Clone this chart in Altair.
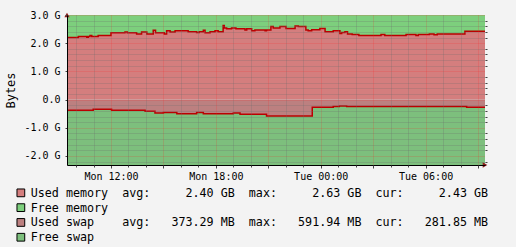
import altair as alt
import pandas as pd

# ---------------- data ----------------
BASE = pd.Timestamp("2024-01-01")  # a Monday; times are minutes since Mon 00:00

mem_minute = [569, 608, 637, 642, 648, 654, 676,
              720, 768, 776, 808, 825, 843, 865, 873, 903, 911,
              923, 940, 985, 1014, 1023, 1031, 1037, 1043, 1060, 1077,
              1088, 1105, 1109, 1117, 1134, 1149, 1180, 1186, 1203, 1214,
              1249, 1254, 1269, 1277, 1300, 1321, 1352, 1363, 1389, 1397,
              1409, 1437, 1455, 1483, 1506, 1512, 1523, 1532, 1548, 1571,
              1647, 1660, 1733, 1767, 1775, 1813, 1829, 1840, 1935, 2004]
mem_used_gb = [2.20, 2.24, 2.21, 2.24, 2.27, 2.24, 2.27,
               2.37, 2.40, 2.37, 2.33, 2.40, 2.33, 2.46, 2.37, 2.33, 2.44,
               2.40, 2.44, 2.41, 2.38, 2.41, 2.41, 2.46, 2.37, 2.41, 2.44,
               2.41, 2.63, 2.54, 2.51, 2.54, 2.51, 2.47, 2.51, 2.44, 2.47,
               2.44, 2.47, 2.59, 2.54, 2.59, 2.52, 2.61, 2.59, 2.47, 2.44,
               2.48, 2.52, 2.41, 2.44, 2.34, 2.38, 2.41, 2.33, 2.31, 2.27,
               2.31, 2.27, 2.31, 2.27, 2.31, 2.33, 2.30, 2.33, 2.42, 2.42]

swap_minute = [569, 659, 722, 837, 871, 900, 946, 1014, 1037, 1140, 1163,
               1254, 1411, 1483, 1504, 1529, 1941, 2004]
swap_used_gb = [0.38, 0.345, 0.38, 0.41, 0.48, 0.46, 0.50, 0.46, 0.50, 0.48,
                0.52, 0.578, 0.275, 0.245, 0.23, 0.245, 0.275, 0.275]

mem_total_gb = 3.0
swap_total_gb = 2.32

series_names = ["Used memory", "Free memory", "Used swap", "Free swap"]
series_colors = ["#D47E7E", "#7DCF7D", "#BC8080", "#7DBF7D"]
legend_avg = ["2.40 GB", "", "373.29 MB", ""]
legend_max = ["2.63 GB", "", "591.94 MB", ""]
legend_cur = ["2.43 GB", "", "281.85 MB", ""]

FONT = "DejaVu Sans Mono"
LINE_COLOR = "#BB0000"


def ts(m):
    return (BASE + pd.Timedelta(minutes=m)).strftime("%Y-%m-%dT%H:%M:%S")


rows = []
for m, u in zip(mem_minute, mem_used_gb):
    t = ts(m)
    rows.append({"time": t, "series": "Used memory", "top": u, "bottom": 0.0})
    rows.append({"time": t, "series": "Free memory", "top": mem_total_gb, "bottom": u})
for m, s in zip(swap_minute, swap_used_gb):
    t = ts(m)
    rows.append({"time": t, "series": "Used swap", "top": -s, "bottom": 0.0})
    rows.append({"time": t, "series": "Free swap", "top": -s, "bottom": -swap_total_gb})
df = pd.DataFrame(rows)


def dt(minute):
    return alt.DateTime(year=2024, month=1, date=1 + minute // 1440,
                        hours=(minute % 1440) // 60, minutes=minute % 60)


start_dt = dt(mem_minute[0])
end_dt = dt(mem_minute[-1])
hours_in_view = list(range(10, 34))
x_label_ticks = [dt(h * 60) for h in hours_in_view if h % 6 == 0]
x_major_ticks = [dt(h * 60) for h in hours_in_view if h % 3 == 0 and h % 6 != 0]
x_minor_ticks = [dt(h * 60) for h in hours_in_view if h % 3 != 0]
y_major_ticks = [-2.0, -1.0, 0.0, 1.0, 2.0, 3.0]
y_minor_ticks = [round(-2.2 + 0.2 * k, 1) for k in range(27) if k % 5 != 1]

NB = "\u00a0"


def legend_row(name, avg, mx, cur):
    if avg:
        s = f"{name:<13}avg:{avg:>12}  max:{mx:>12}  cur:{cur:>12}"
    else:
        s = name
    return s.replace(" ", NB)


label_strings = [legend_row(n, a, m, c) for n, a, m, c in
                 zip(series_names, legend_avg, legend_max, legend_cur)]
label_expr = ""
for n, s in zip(series_names, label_strings):
    label_expr += f"datum.label == '{n}' ? '{s}' : "
label_expr += "datum.label"

MAJOR_GRID = "rgba(255,30,30,0.32)"
MINOR_GRID = "rgba(110,110,110,0.5)"

common_axis = dict(zindex=1, grid=True, gridDash=[1, 1], labelOverlap=False,
                   labelFlush=False, tickColor="#444")

x_axis_labels = alt.Axis(
    orient="bottom", values=x_label_ticks, title=None,
    format="%a %H:%M",
    labelFont=FONT, labelFontSize=10, labelColor="#000", labelPadding=3,
    tickSize=3, domainColor="#000", gridColor=MAJOR_GRID, **common_axis,
)
x_axis_major = alt.Axis(
    orient="bottom", values=x_major_ticks, title=None, labels=False, domain=False,
    tickSize=3, gridColor=MAJOR_GRID, **common_axis,
)
x_axis_minor = alt.Axis(
    orient="bottom", values=x_minor_ticks, title=None, labels=False, domain=False,
    tickSize=2, gridColor=MINOR_GRID, **common_axis,
)
y_axis_labels = alt.Axis(
    orient="left", values=y_major_ticks, title="Bytes",
    titleFont=FONT, titleFontSize=12, titleFontWeight="normal", titleColor="#000",
    titleX=-56.5, titleY=75, titleAngle=270, titleAlign="center", titleBaseline="middle",
    labelExpr=("abs(datum.value) < 0.01 ? '0.0' : "
               "(datum.value < 0 ? '-' : '') + format(abs(datum.value), '.1f') + ' G'"),
    labelFont=FONT, labelFontSize=10, labelColor="#000", labelPadding=5,
    tickSize=2, domainColor="#000", gridColor=MAJOR_GRID, **common_axis,
)
y_axis_minor = alt.Axis(
    orient="right", values=y_minor_ticks, title=None, labels=False, domain=False,
    tickSize=2, gridColor=MINOR_GRID, **common_axis,
)

legend = alt.Legend(
    orient="none", legendX=-52, legendY=172, direction="vertical",
    title=None, padding=0,
    symbolType="square", symbolSize=60, symbolStrokeColor="#000",
    symbolStrokeWidth=1, symbolOpacity=1,
    labelFont=FONT, labelFontSize=11.7, labelColor="#000", labelLimit=800,
    labelOffset=4, rowPadding=0.8,
    labelExpr=label_expr,
)

x_scale = alt.Scale(domain=[start_dt, end_dt])
y_scale = alt.Scale(domain=[-swap_total_gb, mem_total_gb], nice=False, zero=False)

base = alt.Chart(df)

areas = base.mark_area(interpolate="step-after").encode(
    x=alt.X("time:T", scale=x_scale, axis=x_axis_labels),
    y=alt.Y("top:Q", stack=None, scale=y_scale, axis=y_axis_labels),
    y2="bottom:Q",
    color=alt.Color("series:N", scale=alt.Scale(domain=series_names, range=series_colors),
                    legend=legend),
)

lines = base.transform_filter(
    alt.FieldOneOfPredicate(field="series", oneOf=["Used memory", "Used swap"])
).mark_line(interpolate="step-after", color=LINE_COLOR, strokeWidth=1.5).encode(
    x=alt.X("time:T", scale=x_scale, axis=x_axis_major),
    y=alt.Y("top:Q", scale=y_scale, axis=y_axis_minor),
    detail="series:N",
)

one = pd.DataFrame({"k": [0]})
arrow_up = alt.Chart(one).mark_point(
    shape="triangle-up", filled=True, size=28, color="#8E1E1E", opacity=1, dy=-6
).encode(
    x=alt.X(datum=start_dt, type="temporal", scale=x_scale, axis=x_axis_minor),
    y=alt.Y(datum=mem_total_gb, type="quantitative", scale=y_scale, axis=None),
)
arrow_right = alt.Chart(one).mark_point(
    shape="triangle-right", filled=True, size=28, color="#8E1E1E", opacity=1, dx=6
).encode(
    x=alt.X(datum=end_dt, type="temporal", scale=x_scale, axis=None),
    y=alt.Y(datum=-swap_total_gb, type="quantitative", scale=y_scale, axis=None),
)

chart = alt.layer(areas, lines, arrow_up, arrow_right).resolve_axis(
    x="independent", y="independent"
).properties(
    width=418, height=150,
    autosize=alt.AutoSizeParams(type="none"),
    padding={"left": 67, "top": 15, "right": 31, "bottom": 82},
    background="#F3F3F3",
).configure_view(stroke=None)

chart.save("out.html", embed_options={"renderer": "svg", "actions": False})
